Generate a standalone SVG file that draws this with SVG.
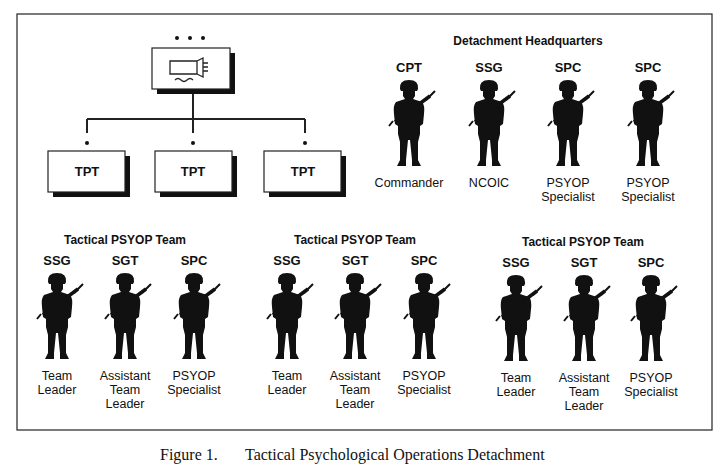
<svg xmlns="http://www.w3.org/2000/svg" width="720" height="469" viewBox="0 0 720 469">
<style>
text{font-family:"Liberation Sans",Arial,sans-serif;fill:#111}
.h{font-weight:bold;font-size:12px;text-anchor:middle}
.r{font-weight:bold;font-size:13px;text-anchor:middle}
.l{font-size:12.5px;text-anchor:middle}
.box{fill:#fff;stroke:#222;stroke-width:1.2}
.sh{fill:#111}
.ln{stroke:#222;stroke-width:2;fill:none}
.cap{font-family:"Liberation Serif","Times New Roman",serif;font-size:16px}
</style>
<defs>
<symbol id="sol" viewBox="-22 0 44 88" overflow="visible">
<path fill="#111" d="M-9 9 Q-10 0 0 0 Q10 0 9 9 L8 11 L6 11 L6 16 L4 19 L13 22 Q16 25 15 34 L14 44 L11 46 L11 54 L9 62 L9 80 L12 86 L3 86 L3 80 L1 60 L-1 60 L-3 80 L-3 86 L-12 86 L-9 80 L-9 62 L-11 54 L-11 46 L-14 44 L-15 34 Q-16 25 -13 22 L-4 19 L-6 16 L-6 11 L-8 11 Z"/>
<path stroke="#111" stroke-width="3.5" d="M-14 42 L21 16"/>
<path stroke="#111" stroke-width="2" d="M17 20 L26 11 M-16 41 L-20 46"/>
</symbol>
</defs>
<rect x="17" y="14" width="695" height="416" fill="#fff" stroke="#222" stroke-width="1.2"/>

<g id="connectors">
<path class="ln" d="M193 92 V119 M87 119 H305 M87 119 V133 M193 119 V133 M305 119 V133"/>
<circle cx="87" cy="143" r="2" fill="#111"/>
<circle cx="193" cy="143" r="2" fill="#111"/>
<circle cx="305" cy="143" r="2" fill="#111"/>
</g>

<g id="hq-node">
<circle cx="177" cy="38" r="2" fill="#111"/><circle cx="190" cy="38" r="2" fill="#111"/><circle cx="203" cy="38" r="2" fill="#111"/>
<rect class="sh" x="157" y="53" width="78" height="41"/>
<rect class="box" x="152" y="48" width="78" height="41"/>
<path fill="none" stroke="#222" stroke-width="1.3" d="M170 61 H197 V74 H170 Z M197 61 L203 58 V77 L197 74 M203 63 H208 M203 67 H208 M203 71 H208 M175 80 q3 -3 6 0 q3 3 6 0 q3 -3 6 0"/>
</g>

<g id="tpt1"><rect class="sh" x="53" y="156" width="77" height="41"/><rect class="box" x="48" y="151" width="77" height="41"/><text class="r" x="87" y="176">TPT</text></g>
<g id="tpt2"><rect class="sh" x="160" y="156" width="77" height="41"/><rect class="box" x="155" y="151" width="77" height="41"/><text class="r" x="193" y="176">TPT</text></g>
<g id="tpt3"><rect class="sh" x="269" y="156" width="77" height="41"/><rect class="box" x="264" y="151" width="77" height="41"/><text class="r" x="303" y="176">TPT</text></g>

<text class="h" x="528" y="45">Detachment Headquarters</text>
<g id="hq-cpt"><text class="r" x="409" y="72">CPT</text><use href="#sol" x="387" y="80" width="44" height="88"/><text class="l" x="409" y="187">Commander</text></g>
<g id="hq-ssg"><text class="r" x="489" y="72">SSG</text><use href="#sol" x="467" y="80" width="44" height="88"/><text class="l" x="489" y="187">NCOIC</text></g>
<g id="hq-spc1"><text class="r" x="568" y="72">SPC</text><use href="#sol" x="546" y="80" width="44" height="88"/><text class="l" x="568" y="187">PSYOP</text><text class="l" x="568" y="201">Specialist</text></g>
<g id="hq-spc2"><text class="r" x="648" y="72">SPC</text><use href="#sol" x="626" y="80" width="44" height="88"/><text class="l" x="648" y="187">PSYOP</text><text class="l" x="648" y="201">Specialist</text></g>

<text class="h" x="125" y="244">Tactical PSYOP Team</text>
<g id="t1-ssg"><text class="r" x="57" y="265">SSG</text><use href="#sol" x="35" y="273" width="44" height="88"/><text class="l" x="57" y="380">Team</text><text class="l" x="57" y="394">Leader</text></g>
<g id="t1-sgt"><text class="r" x="125" y="265">SGT</text><use href="#sol" x="103" y="273" width="44" height="88"/><text class="l" x="125" y="380">Assistant</text><text class="l" x="125" y="394">Team</text><text class="l" x="125" y="408">Leader</text></g>
<g id="t1-spc"><text class="r" x="194" y="265">SPC</text><use href="#sol" x="172" y="273" width="44" height="88"/><text class="l" x="194" y="380">PSYOP</text><text class="l" x="194" y="394">Specialist</text></g>

<text class="h" x="355" y="244">Tactical PSYOP Team</text>
<g id="t2-ssg"><text class="r" x="287" y="265">SSG</text><use href="#sol" x="265" y="273" width="44" height="88"/><text class="l" x="287" y="380">Team</text><text class="l" x="287" y="394">Leader</text></g>
<g id="t2-sgt"><text class="r" x="355" y="265">SGT</text><use href="#sol" x="333" y="273" width="44" height="88"/><text class="l" x="355" y="380">Assistant</text><text class="l" x="355" y="394">Team</text><text class="l" x="355" y="408">Leader</text></g>
<g id="t2-spc"><text class="r" x="424" y="265">SPC</text><use href="#sol" x="402" y="273" width="44" height="88"/><text class="l" x="424" y="380">PSYOP</text><text class="l" x="424" y="394">Specialist</text></g>

<text class="h" x="583" y="246">Tactical PSYOP Team</text>
<g id="t3-ssg"><text class="r" x="516" y="267">SSG</text><use href="#sol" x="494" y="275" width="44" height="88"/><text class="l" x="516" y="382">Team</text><text class="l" x="516" y="396">Leader</text></g>
<g id="t3-sgt"><text class="r" x="584" y="267">SGT</text><use href="#sol" x="562" y="275" width="44" height="88"/><text class="l" x="584" y="382">Assistant</text><text class="l" x="584" y="396">Team</text><text class="l" x="584" y="410">Leader</text></g>
<g id="t3-spc"><text class="r" x="651" y="267">SPC</text><use href="#sol" x="629" y="275" width="44" height="88"/><text class="l" x="651" y="382">PSYOP</text><text class="l" x="651" y="396">Specialist</text></g>

<text class="cap" x="160" y="460">Figure 1.</text>
<text class="cap" x="245" y="460">Tactical Psychological Operations Detachment</text>
</svg>
